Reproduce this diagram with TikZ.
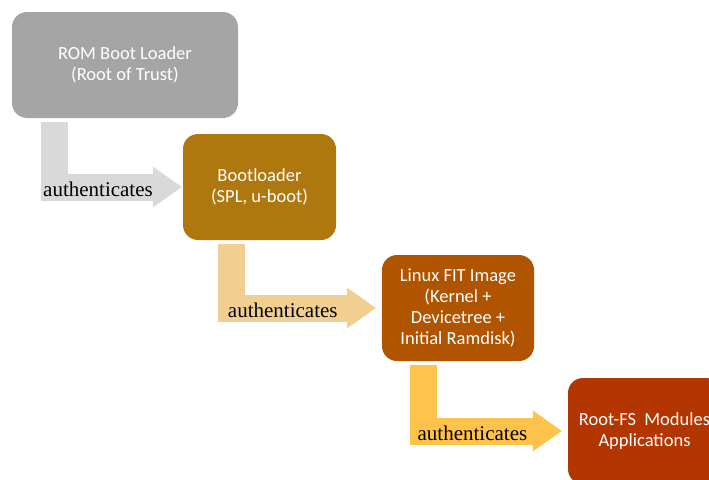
\documentclass[tikz,border=0pt]{standalone}
\usepackage{fontspec}
\setmainfont{Carlito}
\newfontfamily\authfont{Liberation Serif}
\usetikzlibrary{arrows.meta}

\definecolor{romgray}{HTML}{A5A5A5}
\definecolor{romarrow}{HTML}{D9D9D9}
\definecolor{bootgold}{HTML}{AE780E}
\definecolor{bootarrow}{HTML}{F0CF90}
\definecolor{fitbrown}{HTML}{B05400}
\definecolor{fitarrow}{HTML}{FFC34B}
\definecolor{rootred}{HTML}{B33500}

\tikzset{
  stage/.style={rounded corners=15pt, text=white, align=center, minimum height=106pt,
    font=\fontsize{18.5}{21}\selectfont},
  auth/.style={line width=27pt, -{Triangle[length=29pt,width=41pt,line width=0pt]}},
  authlabel/.style={pos=0.67, yshift=-2pt, text=black,
    font=\authfont\fontsize{21}{25}\selectfont}
}

\begin{document}
\begin{tikzpicture}[x=1pt,y=-1pt]
\useasboundingbox (0,0) rectangle (709,479);
\clip (0,0) rectangle (709,479);

% boot stages
\node[stage, fill=romgray, minimum width=226pt] (rom) at (125,65) {ROM Boot Loader\\(Root of Trust)};
\node[stage, fill=bootgold, minimum width=153pt] (boot) at (259.5,187) {Bootloader\\(SPL, u-boot)};
\node[stage, fill=fitbrown, minimum width=152pt] (fit) at (458,308) {Linux FIT Image\\(Kernel +\\Devicetree +\\Initial Ramdisk)};
\node[stage, fill=rootred, minimum width=153pt] (rootfs) at (644.5,431) {Root-FS\ \ Modules\\Applications};

% chain of trust
\draw[auth, romarrow, shorten >=1pt] ([xshift=42.5pt,yshift=-4pt]rom.south west) |- node[authlabel] {authenticates} (boot.west);
\draw[auth, bootarrow, shorten >=6pt] ([xshift=49pt,yshift=-4pt]boot.south west) |- node[authlabel] {authenticates} (fit.west);
\draw[auth, fitarrow, shorten >=6pt] ([xshift=41.5pt,yshift=-4pt]fit.south west) |- node[authlabel] {authenticates} (rootfs.west);
\end{tikzpicture}
\end{document}
